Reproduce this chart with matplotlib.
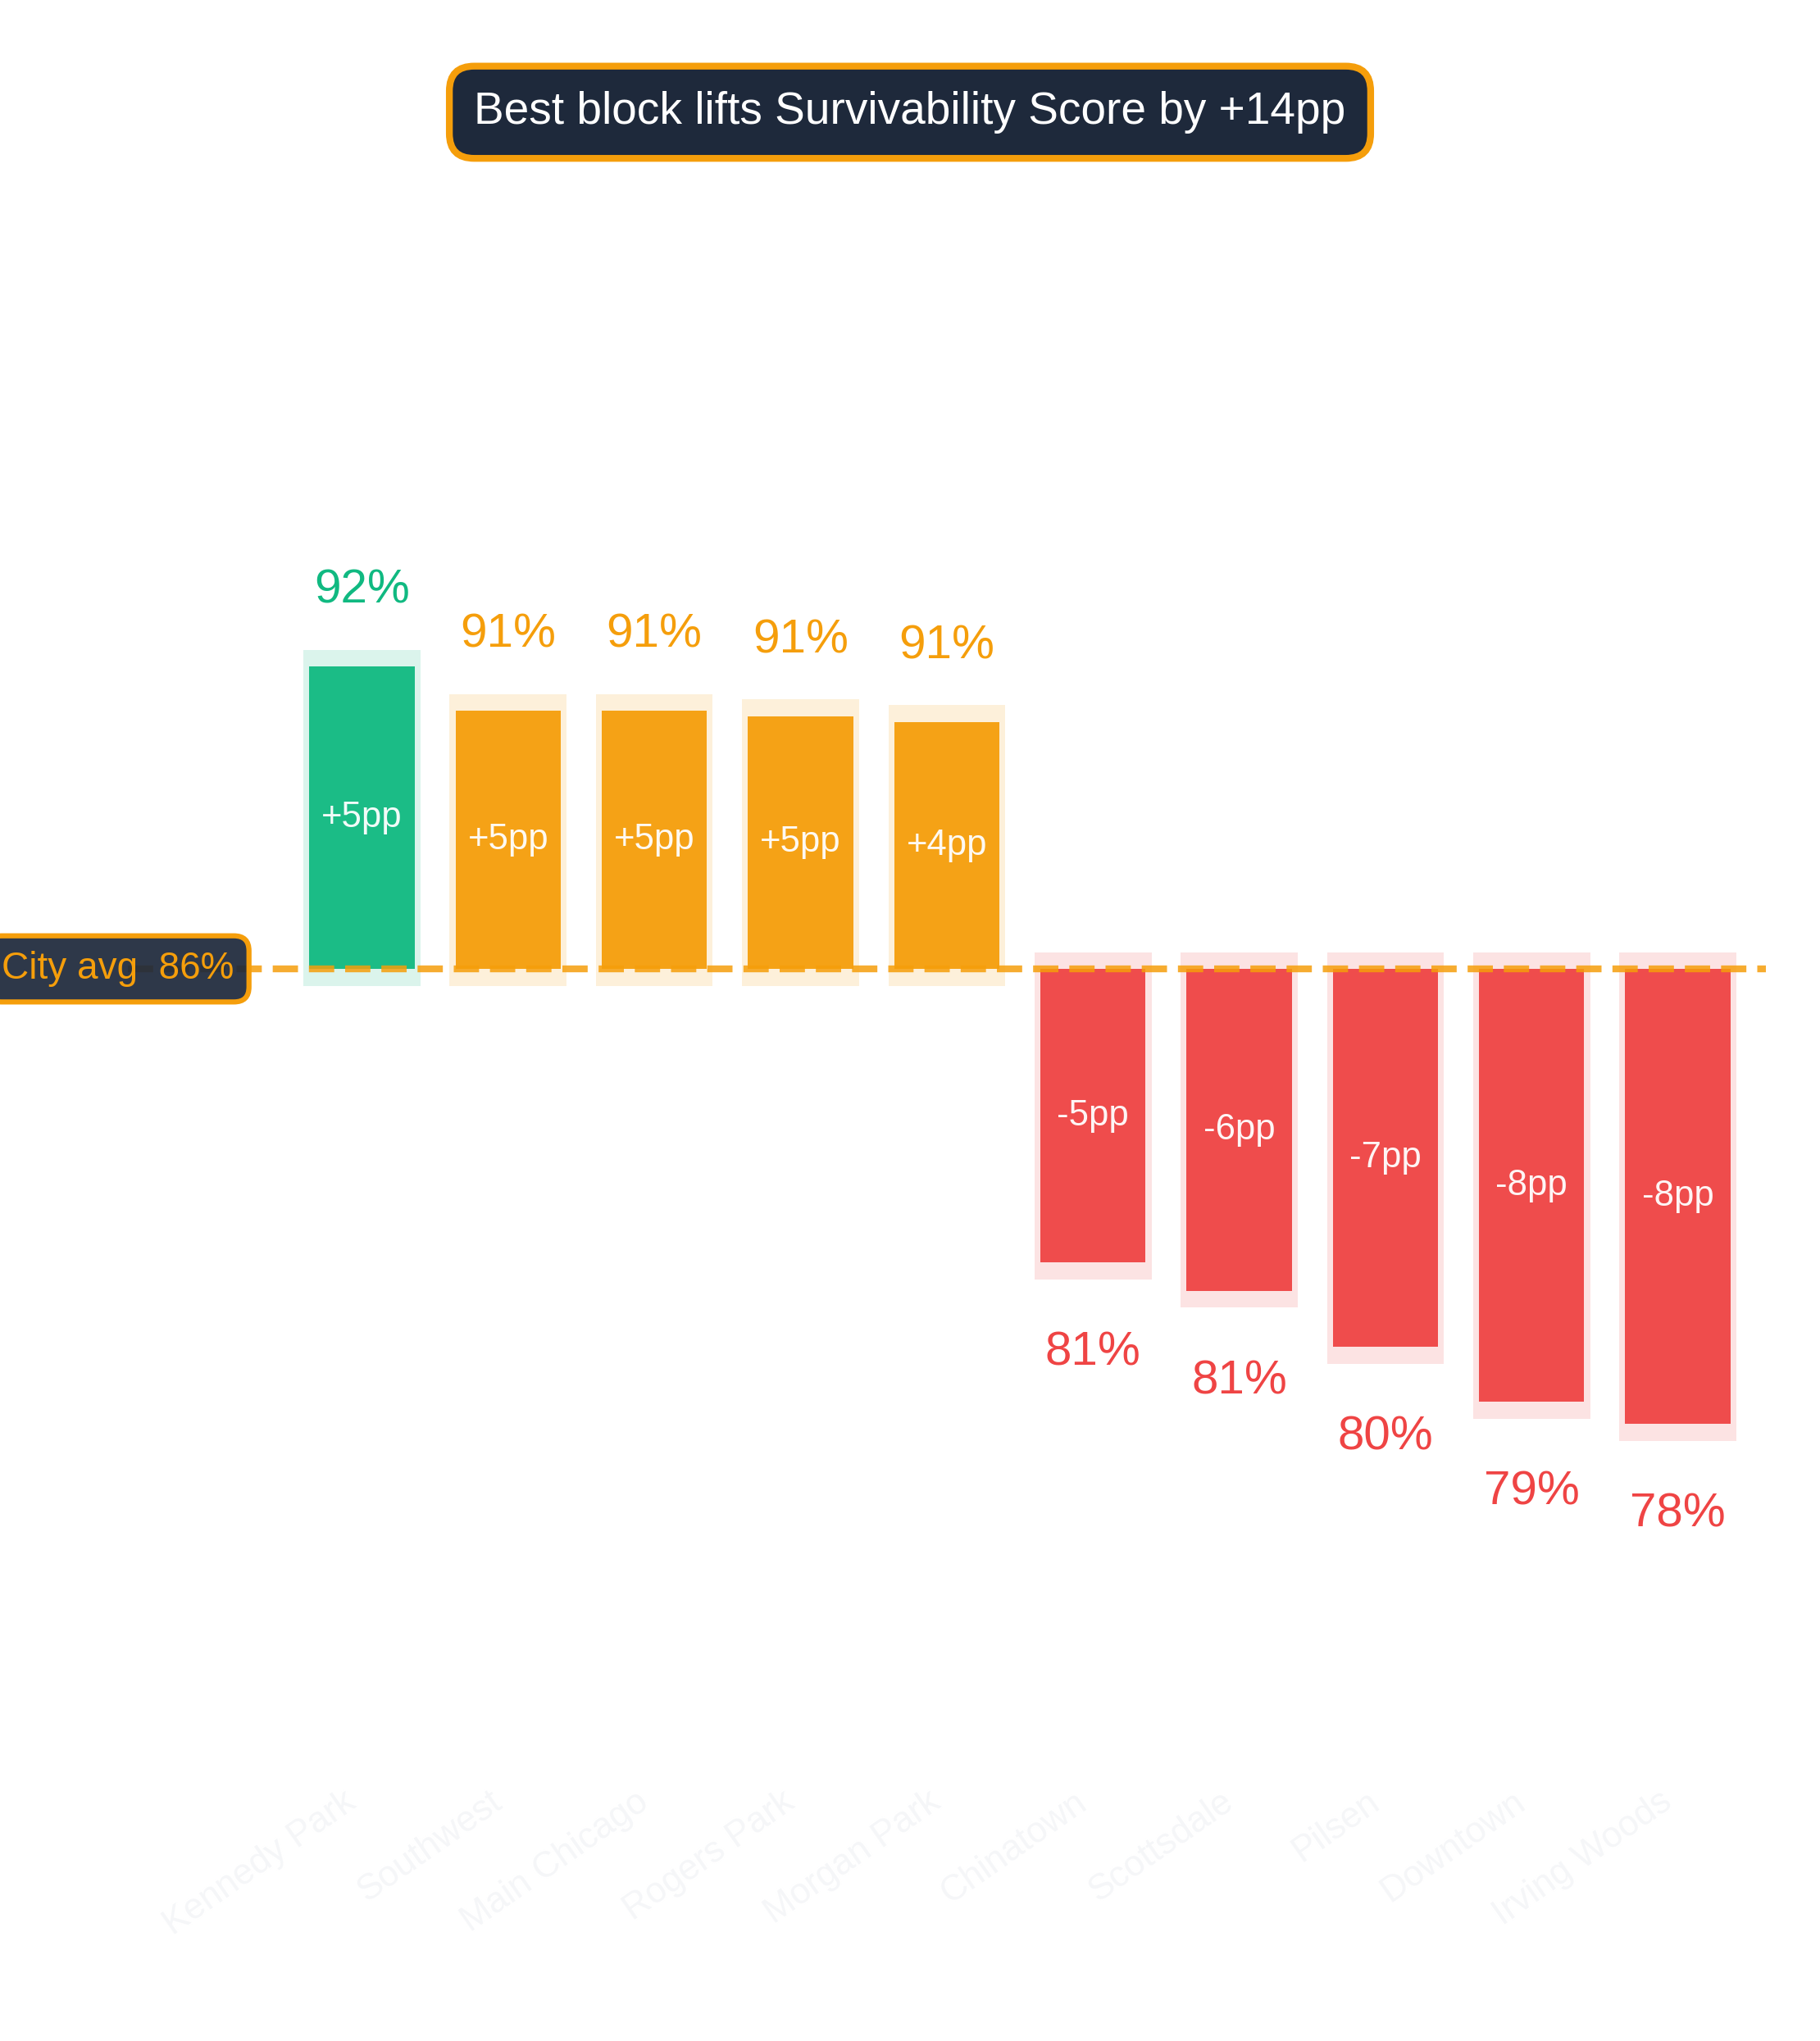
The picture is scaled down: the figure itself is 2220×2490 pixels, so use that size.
import matplotlib
matplotlib.use("Agg")
import matplotlib.pyplot as plt
from matplotlib.colors import to_rgba

plt.rcParams['font.family'] = ['Liberation Sans', 'DejaVu Sans']

# data
blocks = ['Kennedy Park', 'Southwest', 'Main Chicago', 'Rogers Park', 'Morgan Park',
          'Chinatown', 'Scottsdale', 'Pilsen', 'Downtown', 'Irving Woods']
scores = [91.80, 91.01, 91.01, 90.91, 90.81, 81.16, 80.65, 79.65, 78.67, 78.27]
city_avg = 86.4

GREEN = '#10b981'
AMBER = '#f59e0b'
RED = '#ef4444'
NAVY = '#1e293b'

fig = plt.figure(figsize=(7.4, 8.3), dpi=300)
ax = fig.add_axes([0.0703, 0.1313, 0.8998, 0.7482])

best = max(scores)
x = list(range(len(blocks)))
for i, s in enumerate(scores):
    d = s - city_avg
    if s == best:
        c = GREEN
    elif d >= 0:
        c = AMBER
    else:
        c = RED
    sign = 1 if d >= 0 else -1
    # soft halo behind each bar
    ax.bar(i, d + sign * 0.6, bottom=city_avg - sign * 0.3, width=0.8,
           color=c, alpha=0.15, linewidth=0, zorder=1)
    ax.bar(i, d, bottom=city_avg, width=0.72, color=c, alpha=0.95,
           linewidth=0, zorder=2)
    ax.text(i, city_avg + d / 2, f"{d:+.0f}pp", ha='center', va='center',
            fontsize=10.5, color='white', alpha=0.95, zorder=4)
    if d >= 0:
        ax.text(i, s + 0.96, f"{s:.0f}%", ha='center', va='bottom',
                fontsize=14, color=c, zorder=4)
    else:
        ax.text(i, s - 1.22, f"{s:.0f}%", ha='center', va='top',
                fontsize=14, color=c, zorder=4)

ax.axhline(city_avg, color=AMBER, lw=2, ls='--', alpha=0.85, zorder=3)
ax.text(-0.875, city_avg, f"City avg  {city_avg:.0f}%", ha='right', va='center',
        fontsize=11, color=AMBER, zorder=5,
        bbox=dict(boxstyle='round,pad=0.4', facecolor=to_rgba(NAVY, 0.93),
                  edgecolor=AMBER, linewidth=1.5))

ax.set_xlim(-1.6, 9.6)
ax.set_ylim(72.04, 99.31)
ax.set_xticks(x)
ax.set_xticklabels(blocks, rotation=35, ha='right', fontsize=10.5, color='#f5f6f8')
ax.tick_params(axis='x', length=0)
ax.set_yticks([])
for sp in ax.spines.values():
    sp.set_visible(False)

gap = round(best - min(scores))
fig.text(0.5, 0.945, f"Best block lifts Survivability Score by +{gap}pp",
         ha='center', va='center', fontsize=13.2, color='white',
         bbox=dict(boxstyle='round,pad=0.55', facecolor=NAVY,
                   edgecolor=AMBER, linewidth=2))

fig.savefig('out.png', dpi=300)
